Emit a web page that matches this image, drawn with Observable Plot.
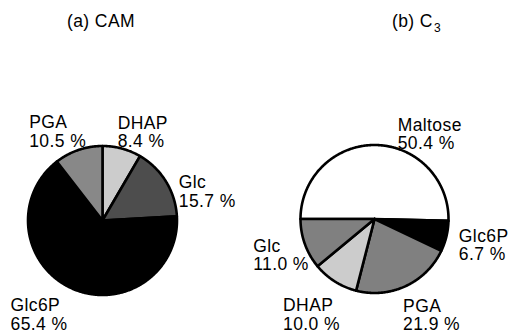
<!DOCTYPE html>
<html><head><meta charset="utf-8">
<script src="https://cdn.jsdelivr.net/npm/d3@7"></script>
<script src="https://cdn.jsdelivr.net/npm/@observablehq/plot@0.6"></script>
<style>
body{margin:0;background:#fff;font-family:"Liberation Sans",Arial,sans-serif;}
#wrap{position:relative;width:509px;height:335px;overflow:hidden;}
.title{position:absolute;font-size:17.5px;line-height:18px;top:12.2px;color:#000;white-space:nowrap;letter-spacing:0.4px;}
.title sub{font-size:12px;vertical-align:baseline;position:relative;top:5px;margin-left:1px;}
#chart{position:absolute;left:0;top:40px;}
</style></head><body>
<div id="wrap">
<div class="title" style="left:67px">(a) CAM</div>
<div class="title" style="left:392px">(b) C<sub>3</sub></div>
<div id="chart"></div>
</div>
<script>
// ---- data ----
const camLabels = ["DHAP", "Glc", "Glc6P", "PGA"];
const camValues = [8.4, 15.7, 65.4, 10.5];
const c3Labels = ["Maltose", "Glc6P", "PGA", "DHAP", "Glc"];
const c3Values = [50.4, 6.7, 21.9, 10.0, 11.0];

// ---- styles / layout ----
const camColors = ["#cccccc", "#4d4d4d", "#000000", "#888888"];
const c3Colors = ["#ffffff", "#000000", "#808080", "#cccccc", "#808080"];
const pies = [
  {labels: camLabels, values: camValues, colors: camColors, cx: 102, cy: 220, r: 74.5, start: 0,
   nudges: [[-10, -12], [-6, 5], [-52, -10], [-42, -14]]},
  {labels: c3Labels, values: c3Values, colors: c3Colors, cx: 374, cy: 218.5, r: 74, start: -Math.PI / 2,
   nudges: [[22, -5.5], [-9, -13], [-12, -7.5], [-40, -2], [-31, -13]]}
];
const labelGap = 22;

const marks = [];
const labelRows = [];
for (const p of pies) {
  const arcs = d3.pie().sort(null).startAngle(p.start).endAngle(p.start + 2 * Math.PI)(p.values);
  arcs.forEach((a, i) => {
    const pts = [{x: p.cx, y: p.cy}];
    const n = Math.max(2, Math.ceil((a.endAngle - a.startAngle) / (Math.PI / 360)));
    for (let k = 0; k <= n; k++) {
      const t = a.startAngle + (a.endAngle - a.startAngle) * k / n;
      pts.push({x: p.cx + p.r * Math.sin(t), y: p.cy - p.r * Math.cos(t)});
    }
    pts.push({x: p.cx, y: p.cy});
    marks.push(Plot.line(pts, {x: "x", y: "y", fill: p.colors[i], stroke: "#000", strokeWidth: 2.6, strokeLinejoin: "round"}));
    const mid = (a.startAngle + a.endAngle) / 2;
    const R = p.r + labelGap;
    labelRows.push({
      x: p.cx + R * Math.sin(mid) + p.nudges[i][0],
      y: p.cy - R * Math.cos(mid) + p.nudges[i][1],
      text: `${p.labels[i]}\n${p.values[i].toFixed(1)} %`
    });
  });
}
marks.push(Plot.text(labelRows, {x: "x", y: "y", text: "text", textAnchor: "start", lineAnchor: "top", fontSize: 17.5, lineHeight: 1.06, fill: "#000"}));

const chart = Plot.plot({
  width: 509, height: 295,
  margin: 0,
  x: {domain: [0, 509], range: [0, 509], axis: null},
  y: {domain: [40, 335], range: [0, 295], axis: null},
  style: {fontFamily: "'Liberation Sans', Arial, sans-serif", background: "#fff", overflow: "visible", letterSpacing: "0.4px"},
  marks
});
document.getElementById("chart").appendChild(chart);
</script>
</body></html>
